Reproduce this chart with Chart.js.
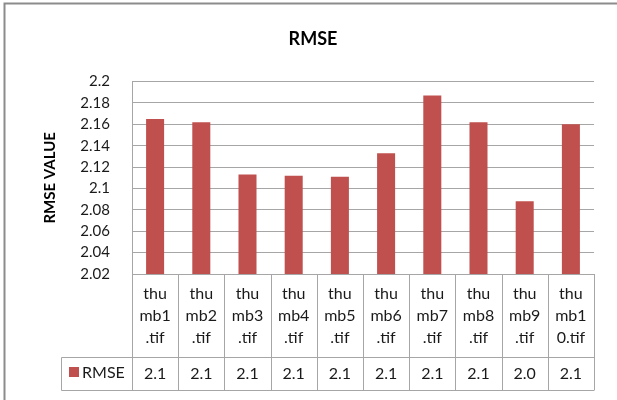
<!DOCTYPE html>
<html>
<head>
<meta charset="utf-8">
<script src="https://cdn.jsdelivr.net/npm/chart.js@4/dist/chart.umd.min.js"></script>
<style>
  html, body { margin: 0; padding: 0; background: #ffffff; }
  canvas { display: block; }
</style>
</head>
<body>
<canvas id="chart" width="617" height="400"></canvas>
<script>
// Image files and their RMSE scores
const categories = ['thumb1.tif', 'thumb2.tif', 'thumb3.tif', 'thumb4.tif', 'thumb5.tif',
                    'thumb6.tif', 'thumb7.tif', 'thumb8.tif', 'thumb9.tif', 'thumb10.tif'];
const rmseValues = [2.165, 2.162, 2.113, 2.112, 2.111, 2.133, 2.187, 2.162, 2.088, 2.160];
const seriesName = 'RMSE';

// Value axis range and tick labels
const yTickValues = [2.02, 2.04, 2.06, 2.08, 2.1, 2.12, 2.14, 2.16, 2.18, 2.2];
const yTickLabels = ['2.02', '2.04', '2.06', '2.08', '2.1', '2.12', '2.14', '2.16', '2.18', '2.2'];

const BAR_COLOR = '#C0504D';
const LINE_COLOR = '#a6a6a6';
const TEXT_COLOR = '#1a1a1a';
const FONT = 'Lato, "Open Sans", sans-serif';

// Category names wrap inside their narrow table cells
function wrapName(name) {
  return [name.slice(0, 3), name.slice(3, 6), name.slice(6)];
}
// Table values show one decimal, cut rather than rounded
function tableValue(v) {
  return (Math.floor(v * 10 + 1e-9) / 10).toFixed(1);
}

// Outer frame of the chart object
const framePlugin = {
  id: 'frame',
  beforeDraw(chart) {
    const ctx = chart.ctx;
    ctx.save();
    ctx.fillStyle = '#ffffff';
    ctx.fillRect(0, 0, chart.width, chart.height);
    ctx.strokeStyle = '#8c8c8c';
    ctx.lineWidth = 2;
    ctx.strokeRect(4.5, 3.5, chart.width + 20, chart.height + 20);
    ctx.restore();
  }
};

// Data table under the plot: category row and value row with legend key
const dataTablePlugin = {
  id: 'dataTable',
  afterDraw(chart) {
    const { ctx, chartArea } = chart;
    const x = chart.scales.x;
    const n = categories.length;
    const half = (x.getPixelForValue(1) - x.getPixelForValue(0)) / 2;
    const left = x.getPixelForValue(0) - half;
    const right = x.getPixelForValue(n - 1) + half;
    const top = chartArea.bottom;
    const rowSplit = top + 83;
    const bottom = rowSplit + 33;
    const legendLeft = 61;

    ctx.save();
    ctx.strokeStyle = LINE_COLOR;
    ctx.lineWidth = 1;
    const px = v => Math.round(v) + 0.5;

    ctx.beginPath();
    // cell boundaries
    for (let i = 0; i <= n; i++) {
      const bx = px(x.getPixelForValue(i) - half);
      ctx.moveTo(bx, top);
      ctx.lineTo(bx, bottom);
    }
    // value row edges
    ctx.moveTo(px(legendLeft), px(rowSplit));
    ctx.lineTo(px(right), px(rowSplit));
    ctx.moveTo(px(legendLeft), px(bottom));
    ctx.lineTo(px(right), px(bottom));
    ctx.moveTo(px(legendLeft), px(rowSplit));
    ctx.lineTo(px(legendLeft), px(bottom));
    ctx.stroke();

    // category names
    ctx.fillStyle = TEXT_COLOR;
    ctx.textAlign = 'center';
    ctx.textBaseline = 'alphabetic';
    ctx.font = '16px ' + FONT;
    categories.forEach((name, i) => {
      const cx = x.getPixelForValue(i);
      wrapName(name).forEach((line, k) => {
        ctx.fillText(line, cx, top + 25 + k * 22);
      });
    });

    // values
    rmseValues.forEach((v, i) => {
      ctx.fillText(tableValue(v), x.getPixelForValue(i), rowSplit + 22);
    });

    // legend key
    ctx.fillStyle = BAR_COLOR;
    ctx.fillRect(69, rowSplit + 10, 10, 10);
    ctx.fillStyle = TEXT_COLOR;
    ctx.textAlign = 'left';
    ctx.fillText(seriesName, 82, rowSplit + 21);
    ctx.restore();
  }
};

new Chart(document.getElementById('chart'), {
  type: 'bar',
  data: {
    labels: categories,
    datasets: [{
      label: seriesName,
      data: rmseValues,
      backgroundColor: BAR_COLOR,
      borderWidth: 0,
      categoryPercentage: 1.0,
      barPercentage: 0.39
    }]
  },
  options: {
    responsive: false,
    animation: false,
    devicePixelRatio: 1,
    layout: { padding: { left: 32, right: 23, top: 0, bottom: 0 } },
    plugins: {
      legend: { display: false },
      tooltip: { enabled: false },
      title: {
        display: true,
        text: 'RMSE',
        color: '#000000',
        font: { family: FONT, size: 18, weight: 'bold' },
        padding: { top: 28, bottom: 32 }
      }
    },
    scales: {
      x: {
        ticks: { display: false },
        grid: { display: false, drawTicks: false },
        border: { display: true, color: LINE_COLOR },
        afterFit(scale) { scale.height = 126; }
      },
      y: {
        min: yTickValues[0],
        max: yTickValues[yTickValues.length - 1],
        afterBuildTicks(scale) {
          scale.ticks = yTickValues.map(v => ({ value: v }));
        },
        ticks: {
          padding: 22,
          color: TEXT_COLOR,
          font: { family: FONT, size: 15 },
          callback(value, index) { return yTickLabels[index]; }
        },
        grid: { color: LINE_COLOR, drawTicks: false },
        border: { display: true, color: LINE_COLOR },
        title: {
          display: true,
          text: 'RMSE VALUE',
          color: '#000000',
          font: { family: FONT, size: 15, weight: 'bold' },
          padding: { top: 9, bottom: 0 }
        },
        afterFit(scale) { scale.width = 100; }
      }
    }
  },
  plugins: [framePlugin, dataTablePlugin]
});
</script>
</body>
</html>
